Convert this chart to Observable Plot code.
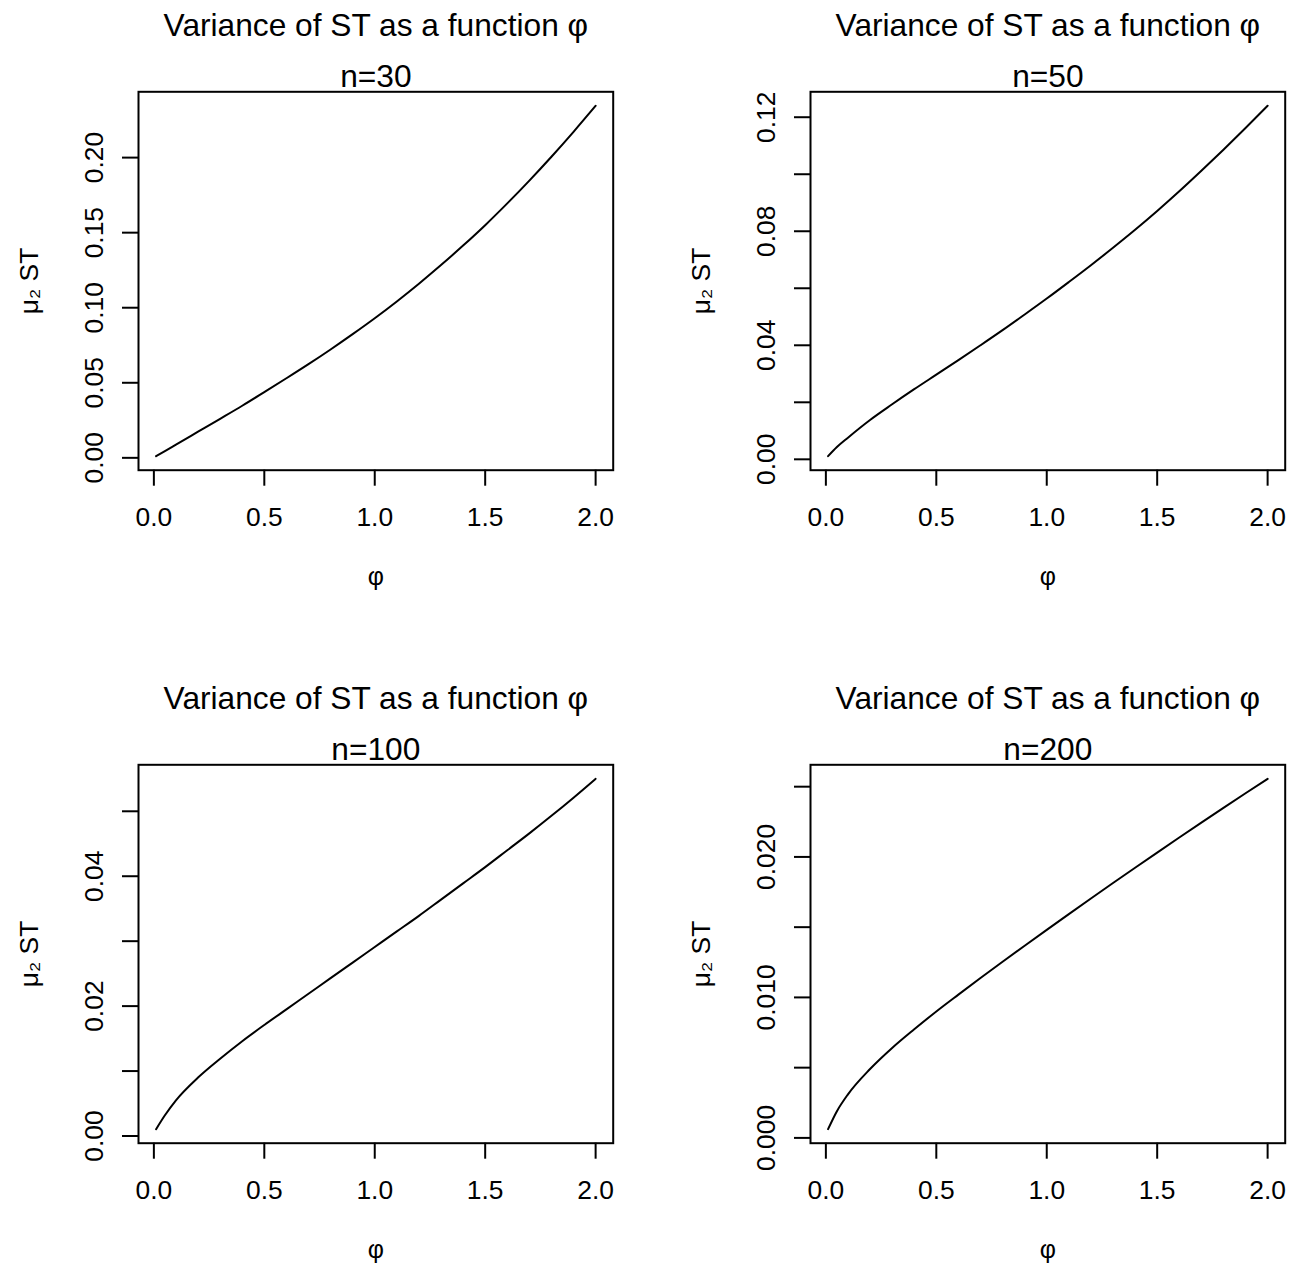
<!DOCTYPE html>
<html><head><meta charset="utf-8">
<script src="https://cdn.jsdelivr.net/npm/d3@7"></script>
<script src="https://cdn.jsdelivr.net/npm/@observablehq/plot@0.6"></script>
<style>
html,body{margin:0;padding:0;background:#fff;}
#chart{position:relative;width:1305px;height:1265px;overflow:hidden;background:#fff;}
#chart > svg{position:absolute;}
</style></head><body><div id="chart"></div>
<script>
// ---- data ----
const phi = [0.01, 0.05, 0.1, 0.2, 0.3, 0.4, 0.5, 0.6, 0.7, 0.8, 0.9, 1.0, 1.1, 1.2, 1.3, 1.4, 1.5, 1.6, 1.7, 1.8, 1.9, 2.0];
const mu2_n30  = [0.0011, 0.0045, 0.0088, 0.0174, 0.0260, 0.0347, 0.0438, 0.0530, 0.0624, 0.0722, 0.0824, 0.0930, 0.1042, 0.1160, 0.1284, 0.1414, 0.1550, 0.1695, 0.1847, 0.2006, 0.2172, 0.2345];
const mu2_n50  = [0.0011, 0.0043, 0.0076, 0.0138, 0.0193, 0.0246, 0.0297, 0.0348, 0.0400, 0.0453, 0.0508, 0.0564, 0.0622, 0.0681, 0.0742, 0.0805, 0.0871, 0.0940, 0.1012, 0.1086, 0.1162, 0.1240];
const mu2_n100 = [0.00105, 0.0032, 0.0055, 0.0090, 0.0119, 0.0146, 0.0171, 0.0195, 0.0219, 0.0243, 0.0267, 0.0291, 0.0315, 0.0339, 0.0364, 0.0389, 0.0414, 0.0440, 0.0466, 0.0493, 0.0521, 0.0550];
const mu2_n200 = [0.00062, 0.0019, 0.0031, 0.0049, 0.0064, 0.00773, 0.0090, 0.0102, 0.01138, 0.01254, 0.01368, 0.01481, 0.01593, 0.01704, 0.01814, 0.01923, 0.02031, 0.02138, 0.02244, 0.02349, 0.02453, 0.02556];
const sampleSizes = [30, 50, 100, 200];
const xTicks = [0, 0.5, 1.0, 1.5, 2.0];
const yTicks_n30 = [0, 0.05, 0.10, 0.15, 0.20];
const yLabels_n30 = [0, 0.05, 0.10, 0.15, 0.20];
const yTicks_n50 = [0, 0.02, 0.04, 0.06, 0.08, 0.10, 0.12];
const yLabels_n50 = [0, 0.04, 0.08, 0.12];
const yTicks_n100 = [0, 0.01, 0.02, 0.03, 0.04, 0.05];
const yLabels_n100 = [0, 0.02, 0.04];
const yTicks_n200 = [0, 0.005, 0.010, 0.015, 0.020, 0.025];
const yLabels_n200 = [0, 0.010, 0.020];
const titleText = "Variance of ST as a function φ";
const xLabel = "φ";
const yLabel = "μ₂ ST";

// ---- layout ----
const SANS = "'Liberation Sans', Arial, Helvetica, sans-serif";
const BOX = {left: 138, right: 612.7, top: 91.3, bottom: 469.7};
const colX = [0, 672], rowY = [0, 672.5];
const colW = [672, 633], rowH = [672, 592];

const panels = [
  {values: mu2_n30,  ticks: yTicks_n30,  labels: yLabels_n30,  fmt: ".2f", col: 0, row: 0},
  {values: mu2_n50,  ticks: yTicks_n50,  labels: yLabels_n50,  fmt: ".2f", col: 1, row: 0},
  {values: mu2_n100, ticks: yTicks_n100, labels: yLabels_n100, fmt: ".2f", col: 0, row: 1},
  {values: mu2_n200, ticks: yTicks_n200, labels: yLabels_n200, fmt: ".3f", col: 1, row: 1}
];

const chart = document.getElementById("chart");
panels.forEach((p, k) => {
  const data = phi.map((x, i) => ({phi: x, v: p.values[i]}));
  const [x0, x1] = d3.extent(phi), rx = x1 - x0;
  const [y0, y1] = d3.extent(p.values), ry = y1 - y0;
  const W = colW[p.col], H = rowH[p.row];
  const lw = 2;
  const svg = Plot.plot({
    width: W, height: H,
    marginLeft: BOX.left, marginRight: W - BOX.right,
    marginTop: BOX.top, marginBottom: H - BOX.bottom,
    style: {fontFamily: SANS, fontSize: "26.4px", color: "black", background: "white", overflow: "visible"},
    x: {domain: [x0 - 0.04 * rx, x1 + 0.04 * rx]},
    y: {domain: [y0 - 0.04 * ry, y1 + 0.04 * ry]},
    marks: [
      Plot.line(data, {x: "phi", y: "v", stroke: "black", strokeWidth: lw, curve: "monotone-x"}),
      Plot.frame({stroke: "black", strokeWidth: lw}),
      Plot.axisX({ticks: xTicks, tickSize: 16, tickPadding: 21, tickFormat: d3.format(".1f"),
                  stroke: "black", strokeWidth: lw, fontSize: 26.4, label: null}),
      Plot.axisY({ticks: p.ticks, tickSize: 16, tickFormat: () => "", stroke: "black", strokeWidth: lw, label: null}),
      Plot.text(p.labels, {y: d => d, text: d => d3.format(p.fmt)(d), frameAnchor: "left", rotate: -90,
                           dx: -36, lineAnchor: "bottom", textAnchor: "middle", fontSize: 26.4, fill: "black"}),
      Plot.text([titleText], {frameAnchor: "top", dy: -55.5, lineAnchor: "bottom", fontSize: 31.7, fill: "black"}),
      Plot.text(["n=" + sampleSizes[k]], {frameAnchor: "top", dy: -4.5, lineAnchor: "bottom", fontSize: 31.7, fill: "black"}),
      Plot.text([xLabel], {frameAnchor: "bottom", dy: 115, lineAnchor: "bottom", fontSize: 25, fill: "black"}),
      Plot.text([yLabel], {frameAnchor: "left", dx: -101, rotate: -90, lineAnchor: "bottom",
                           textAnchor: "middle", fontSize: 26.4, fill: "black"})
    ]
  });
  svg.style.left = colX[p.col] + "px";
  svg.style.top = rowY[p.row] + "px";
  chart.appendChild(svg);
});
</script></body></html>
